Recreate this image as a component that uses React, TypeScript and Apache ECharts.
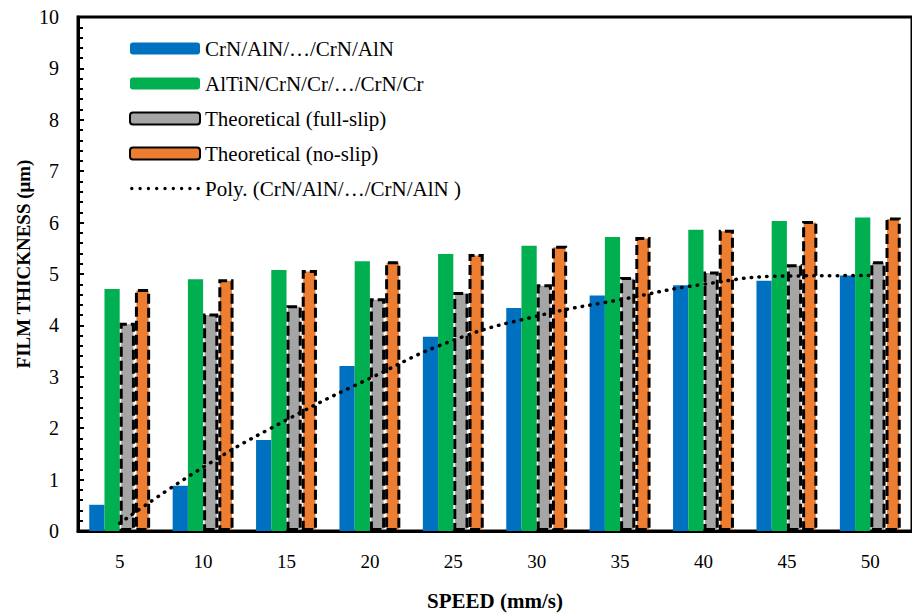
import React, { useEffect, useRef } from "react";
import * as echarts from "echarts";

const categories = ["5", "10", "15", "20", "25", "30", "35", "40", "45", "50"];
const crnAln = [0.51, 0.88, 1.77, 3.21, 3.78, 4.34, 4.58, 4.78, 4.87, 4.97];
const altin = [4.71, 4.9, 5.08, 5.25, 5.39, 5.55, 5.72, 5.86, 6.03, 6.1];
const fullSlip = [4.05, 4.23, 4.39, 4.53, 4.65, 4.8, 4.94, 5.05, 5.19, 5.25];
const noSlip = [4.71, 4.9, 5.08, 5.25, 5.39, 5.55, 5.72, 5.86, 6.03, 6.1];
const polyTrend = [0.15, 1.24, 2.16, 2.97, 3.71, 4.18, 4.5, 4.8, 4.96, 4.97];
const yTicks = [0, 1, 2, 3, 4, 5, 6, 7, 8, 9, 10];

const FONT = "'Liberation Serif', 'Times New Roman', serif";

function dottedIcon(): string {
  let d = "M0 0 L0.01 0 L0.01 0.01 Z M70 12 L69.99 12 L69.99 11.99 Z ";
  const r = 1.7;
  for (let i = 0; i < 9; i++) {
    const cx = 1.8 + i * 8.3;
    const cy = 6;
    d += `M${cx - r} ${cy} A${r} ${r} 0 1 0 ${cx + r} ${cy} A${r} ${r} 0 1 0 ${cx - r} ${cy} Z `;
  }
  return "path://" + d;
}

export default function App() {
  const ref = useRef<HTMLDivElement>(null);
  useEffect(() => {
    if (!ref.current) return;
    const chart = echarts.init(ref.current, null, { renderer: "svg" });
    const dashedBorder = {
      borderColor: "#000",
      borderWidth: 3,
      borderType: [10, 4] as any,
    };
    chart.setOption({
      animation: false,
      textStyle: { fontFamily: FONT },
      grid: {
        left: 78,
        top: 17,
        right: 0,
        bottom: 73,
        show: true,
        borderColor: "#000",
        borderWidth: 3,
        containLabel: false,
      },
      graphic: [
        {
          type: "text",
          x: 23,
          y: 264,
          rotation: Math.PI / 2,
          style: {
            text: "FILM THICKNESS (μm)",
            fontFamily: FONT,
            fontSize: 19,
            fontWeight: "bold",
            fill: "#000",
            align: "center",
            verticalAlign: "middle",
          },
        },
      ],
      legend: {
        orient: "vertical",
        left: 124,
        top: 33,
        itemWidth: 70,
        itemHeight: 12,
        itemGap: 14,
        textStyle: { fontFamily: FONT, fontSize: 21, color: "#000", lineHeight: 20 },
        data: [
          "CrN/AlN/…/CrN/AlN",
          "AlTiN/CrN/Cr/…/CrN/Cr",
          "Theoretical (full-slip)",
          "Theoretical (no-slip)",
          {
            name: "Poly. (CrN/AlN/…/CrN/AlN )",
            icon: dottedIcon(),
            itemStyle: { color: "#000", borderWidth: 0 },
          },
        ],
      },
      xAxis: {
        type: "category",
        data: categories,
        name: "SPEED (mm/s)",
        nameLocation: "middle",
        nameGap: 59,
        nameTextStyle: { fontFamily: FONT, fontSize: 21, fontWeight: "bold", color: "#000" },
        axisLine: { lineStyle: { color: "#000", width: 3 } },
        axisTick: { inside: true, length: 6, lineStyle: { color: "#000", width: 2 } },
        axisLabel: { fontFamily: FONT, fontSize: 19, color: "#000", margin: 21 },
      },
      yAxis: {
        type: "value",
        min: yTicks[0],
        max: yTicks[yTicks.length - 1],
        interval: 1,
        axisLine: { show: true, lineStyle: { color: "#000", width: 3 } },
        axisTick: { show: true, inside: true, length: 6, lineStyle: { color: "#000", width: 2 } },
        minorTick: { show: true, splitNumber: 5, length: 5, lineStyle: { color: "#000", width: 2 } },
        splitLine: { show: false },
        axisLabel: { fontFamily: FONT, fontSize: 20, color: "#000", margin: 19 },
      },
      series: [
        {
          name: "CrN/AlN/…/CrN/AlN",
          type: "bar",
          data: crnAln,
          barGap: "0%",
          barCategoryGap: "27%",
          itemStyle: { color: "#0070C0" },
        },
        {
          name: "AlTiN/CrN/Cr/…/CrN/Cr",
          type: "bar",
          data: altin,
          barGap: "0%",
          barCategoryGap: "27%",
          itemStyle: { color: "#00B050" },
        },
        {
          name: "Theoretical (full-slip)",
          type: "bar",
          data: fullSlip,
          barGap: "0%",
          barCategoryGap: "27%",
          itemStyle: { color: "#A5A5A5", ...dashedBorder },
        },
        {
          name: "Theoretical (no-slip)",
          type: "bar",
          data: noSlip,
          barGap: "0%",
          barCategoryGap: "27%",
          itemStyle: { color: "#ED7D31", ...dashedBorder },
        },
        {
          name: "Poly. (CrN/AlN/…/CrN/AlN )",
          type: "line",
          data: polyTrend,
          smooth: true,
          symbol: "none",
          z: 5,
          lineStyle: { color: "#000", width: 3.5, type: [0.5, 7.3] as any, cap: "round" },
          itemStyle: { color: "#000" },
        },
      ],
    });
    return () => chart.dispose();
  }, []);
  return (
    <div
      ref={ref}
      style={{ position: "absolute", left: 0, top: 0, width: 912, height: 616 }}
    />
  );
}
